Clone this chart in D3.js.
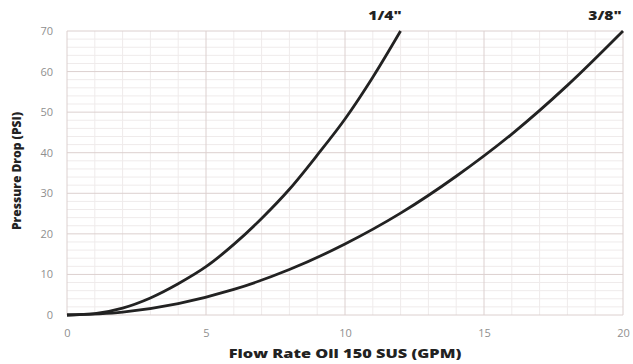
<!DOCTYPE html>
<html><head><meta charset="utf-8">
<script src="https://cdn.jsdelivr.net/npm/d3@7"></script>
<style>body{margin:0;background:#fff;} svg{display:block;}</style>
</head><body>
<svg id="c" width="633" height="364"></svg>
<script>
// Data
const flowQuarter = [0,1,2,3,4,5,6,7,8,9,10,11,12];
const dropQuarter = [0,0.35,1.7,4.2,7.7,11.9,17.4,23.8,31,39.4,48.3,58.6,70];
const flowThreeEighth = [0,2,4,6,8,10,12,14,16,18,20];
const dropThreeEighth = [0,0.7,2.8,6.3,11.2,17.5,25.1,34.2,44.6,56.6,70];
const seriesNames = ['1/4"', '3/8"'];
const xTicks = [0,5,10,15,20];
const yTicks = [0,10,20,30,40,50,60,70];
const xTitle = "Flow Rate Oil 150 SUS (GPM)";
const yTitle = "Pressure Drop (PSI)";

const FONT = "'Open Sans', sans-serif";
const svg = d3.select("#c");
const x = d3.scaleLinear().domain([0,20]).range([67,623]);
const y = d3.scaleLinear().domain([0,70]).range([315,31]);

const g = svg.append("g");
// minor grid
g.selectAll(".mx").data(d3.range(0,21,1).filter(v=>v%5)).enter().append("line")
  .attr("x1",d=>x(d)).attr("x2",d=>x(d)).attr("y1",y(70)).attr("y2",y(0))
  .attr("stroke","#efebeb").attr("stroke-width",1);
g.selectAll(".my").data(d3.range(0,71,2).filter(v=>v%10)).enter().append("line")
  .attr("y1",d=>y(d)).attr("y2",d=>y(d)).attr("x1",x(0)).attr("x2",x(20))
  .attr("stroke","#efebeb").attr("stroke-width",1);
// major grid
g.selectAll(".Mx").data(xTicks).enter().append("line")
  .attr("x1",d=>x(d)).attr("x2",d=>x(d)).attr("y1",y(70)).attr("y2",y(0))
  .attr("stroke","#dcd0cf").attr("stroke-width",1);
g.selectAll(".My").data(yTicks).enter().append("line")
  .attr("y1",d=>y(d)).attr("y2",d=>y(d)).attr("x1",x(0)).attr("x2",x(20))
  .attr("stroke","#dcd0cf").attr("stroke-width",1);

// axes labels via d3 axes
const xAxis = svg.append("g").attr("transform",`translate(0,${y(0)})`)
  .call(d3.axisBottom(x).tickValues(xTicks).tickSize(0).tickPadding(14));
const yAxis = svg.append("g").attr("transform",`translate(${x(0)},0)`)
  .call(d3.axisLeft(y).tickValues(yTicks).tickSize(0).tickPadding(14));
[xAxis,yAxis].forEach(a=>{
  a.select(".domain").remove();
  a.selectAll("text").attr("fill","#8f8f8f").style("font-family",FONT).style("font-size","11px");
});

// curves
const line = d3.line().x(d=>x(d[0])).y(d=>y(d[1])).curve(d3.curveMonotoneX);
const s1 = flowQuarter.map((f,i)=>[f,dropQuarter[i]]);
const s2 = flowThreeEighth.map((f,i)=>[f,dropThreeEighth[i]]);
[s1,s2].forEach(s=>{
  svg.append("path").datum(s).attr("d",line).attr("fill","none")
    .attr("stroke","#222").attr("stroke-width",2.8);
});

function label(txt, cx, by, size, sx, rot){
  const t = svg.append("text")
    .attr("transform", rot ? `translate(${cx},${by}) rotate(-90) scale(${sx},1)` : `translate(${cx},${by}) scale(${sx},1)`)
    .attr("text-anchor","middle").text(txt).attr("fill","#222")
    .style("font-family",FONT).style("font-weight","800").style("font-size",size+"px");
  return t;
}
// series labels
label(seriesNames[0], 385, 20, 13, 1.2, false);
label(seriesNames[1], 605, 20, 13, 1.2, false);
// axis titles
label(xTitle, 345, 358, 12, 1.36, false);
label(yTitle, 21, 171, 11.5, 1.05, true);
</script>
</body></html>
